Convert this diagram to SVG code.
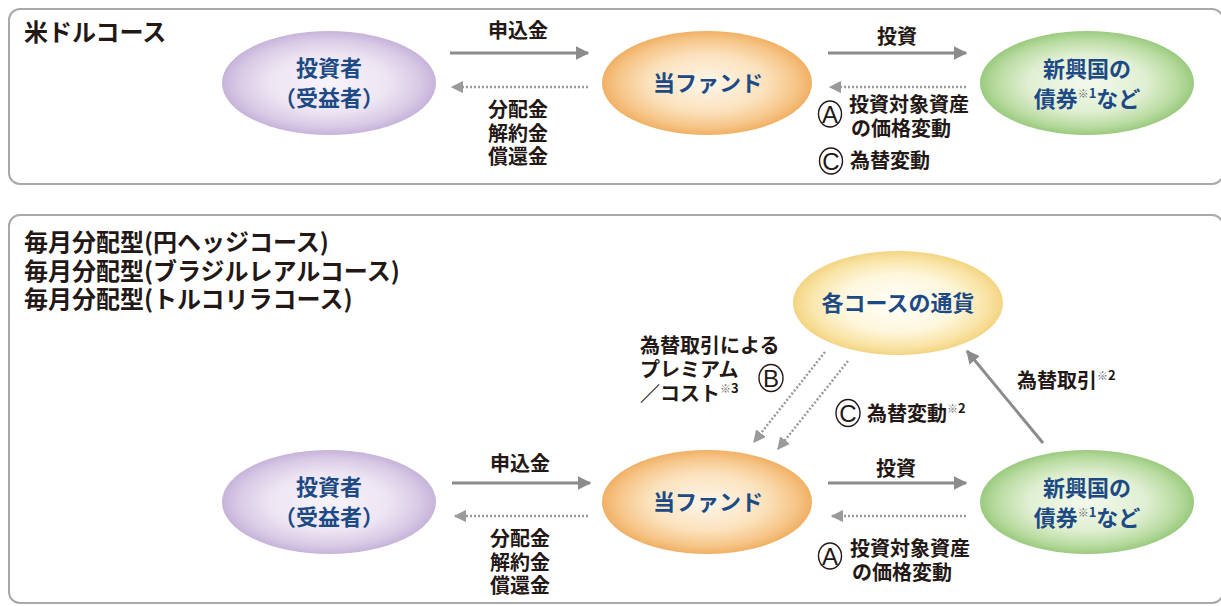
<svg xmlns="http://www.w3.org/2000/svg" width="1221" height="606" viewBox="0 0 1221 606">
<defs>
<radialGradient id="gPurple" cx="50%" cy="50%" r="50%"><stop offset="0" stop-color="#f7f3fa"/><stop offset="0.55" stop-color="#ede5f3"/><stop offset="0.85" stop-color="#d8c9e5"/><stop offset="1" stop-color="#c7b3da"/></radialGradient>
<radialGradient id="gOrange" cx="50%" cy="50%" r="50%"><stop offset="0" stop-color="#fef6ea"/><stop offset="0.55" stop-color="#fbe2bd"/><stop offset="0.85" stop-color="#f6c588"/><stop offset="1" stop-color="#f0b064"/></radialGradient>
<radialGradient id="gGreen" cx="50%" cy="50%" r="50%"><stop offset="0" stop-color="#f3f9ec"/><stop offset="0.55" stop-color="#e0efd2"/><stop offset="0.85" stop-color="#b8dba0"/><stop offset="1" stop-color="#9aca7e"/></radialGradient>
<radialGradient id="gYellow" cx="50%" cy="50%" r="50%"><stop offset="0" stop-color="#fffefa"/><stop offset="0.55" stop-color="#fef7dd"/><stop offset="0.85" stop-color="#f9e4a6"/><stop offset="1" stop-color="#f3d482"/></radialGradient>
<marker id="ah" viewBox="0 0 10 10" refX="9" refY="5" markerWidth="4.5" markerHeight="4.5" orient="auto" markerUnits="strokeWidth"><path d="M0,0 L10,5 L0,10 z" fill="#8c8c8c"/></marker>
<marker id="ahd" viewBox="0 0 10 10" refX="9" refY="5" markerWidth="5" markerHeight="5" orient="auto" markerUnits="strokeWidth"><path d="M0,0 L10,5 L0,10 z" fill="#9a9a9a"/></marker>
</defs>
<style>
text{font-family:"Noto Sans CJK JP","Noto Sans",sans-serif;font-weight:bold}
.panel{fill:#fff;stroke:#a9a9a9;stroke-width:2}
.title{font-size:24px;fill:#231815}
.node{font-size:22px;fill:#1d4a84;text-anchor:middle}
.lbl{font-size:20px;fill:#231815}
.c{text-anchor:middle}
.sup{font-size:11px;fill:#6a6a6a}
.supn{font-size:13px}
.solid{stroke:#8c8c8c;stroke-width:3;fill:none;marker-end:url(#ah)}
.dot{stroke:#9a9a9a;stroke-width:2.5;stroke-dasharray:2 2;fill:none;marker-end:url(#ahd)}
.circ{fill:#fff;stroke:#231815;stroke-width:1.4}
.cl{font-family:"Liberation Sans",Arial,sans-serif;font-size:24px;font-weight:normal;fill:#231815;text-anchor:middle}
</style>

<rect class="panel" x="9" y="9" width="1214" height="175" rx="11"/>
<rect class="panel" x="9" y="215" width="1214" height="388" rx="11"/>
<text class="title" x="24" y="41" font-size="23">米ドルコース</text>
<text class="title" x="24" y="251">毎月分配型(円ヘッジコース)</text>
<text class="title" x="24" y="280">毎月分配型(ブラジルレアルコース)</text>
<text class="title" x="24" y="308">毎月分配型(トルコリラコース)</text>

<g id="investor1"><ellipse cx="329" cy="83" rx="107" ry="52" fill="url(#gPurple)"/><text class="node" x="329" y="76">投資者</text><text class="node" x="329" y="106">（受益者）</text></g>
<g id="fund1"><ellipse cx="707" cy="83" rx="105" ry="52" fill="url(#gOrange)"/><text class="node" x="708" y="91">当ファンド</text></g>
<g id="bonds1"><ellipse cx="1087" cy="83" rx="107" ry="52" fill="url(#gGreen)"/><text class="node" x="1087" y="77">新興国の</text><text class="node" x="1087" y="107">債券<tspan class="sup" fill="#1d4a84" dy="-9">※</tspan><tspan class="supn" dy="0">1</tspan><tspan dy="9">など</tspan></text></g>

<g id="investor2"><ellipse cx="329" cy="502" rx="107" ry="52" fill="url(#gPurple)"/><text class="node" x="329" y="495">投資者</text><text class="node" x="329" y="525">（受益者）</text></g>
<g id="fund2"><ellipse cx="707" cy="502" rx="105" ry="52" fill="url(#gOrange)"/><text class="node" x="708" y="510">当ファンド</text></g>
<g id="bonds2"><ellipse cx="1087" cy="502" rx="107" ry="52" fill="url(#gGreen)"/><text class="node" x="1087" y="496">新興国の</text><text class="node" x="1087" y="526">債券<tspan class="sup" fill="#1d4a84" dy="-9">※</tspan><tspan class="supn" dy="0">1</tspan><tspan dy="9">など</tspan></text></g>
<g id="currency"><ellipse cx="898" cy="303" rx="105" ry="52" fill="url(#gYellow)"/><text class="node" x="898" y="311">各コースの通貨</text></g>

<g id="connectors">
<line class="solid" x1="450" y1="53" x2="588" y2="53"/>
<line class="dot" x1="588" y1="87" x2="452" y2="87"/>
<line class="solid" x1="828" y1="53" x2="966" y2="53"/>
<line class="dot" x1="966" y1="87" x2="830" y2="87"/>
<line class="solid" x1="452" y1="483" x2="590" y2="483"/>
<line class="dot" x1="588" y1="516" x2="455" y2="516"/>
<line class="solid" x1="828" y1="483" x2="966" y2="483"/>
<line class="dot" x1="966" y1="516" x2="832" y2="516"/>
<line class="dot" x1="825" y1="352" x2="754" y2="442"/>
<line class="dot" x1="848" y1="361" x2="778" y2="449"/>
<line class="solid" x1="1043" y1="443" x2="967" y2="351"/>
</g>

<g id="labels">
<text class="lbl c" x="518" y="38">申込金</text>
<text class="lbl c" x="518" y="117">分配金</text>
<text class="lbl c" x="518" y="140.5">解約金</text>
<text class="lbl c" x="518" y="164">償還金</text>
<text class="lbl c" x="897" y="44">投資</text>
<ellipse class="circ" cx="830" cy="114" rx="11.5" ry="13"/><text class="cl" x="830" y="122.5">A</text>
<text class="lbl" x="849" y="112">投資対象資産</text>
<text class="lbl" x="851" y="136">の価格変動</text>
<ellipse class="circ" cx="831" cy="161" rx="11.5" ry="13"/><text class="cl" x="831" y="169.5">C</text>
<text class="lbl" x="850" y="168">為替変動</text>

<text class="lbl" x="640" y="353">為替取引による</text>
<text class="lbl" x="640" y="377">プレミアム</text>
<text class="lbl" x="640" y="401">／コスト<tspan class="sup" dy="-8">※</tspan><tspan class="supn" dy="0" fill="#231815">3</tspan></text>
<ellipse class="circ" cx="771" cy="378" rx="12" ry="13.5"/><text class="cl" x="771" y="386.5">B</text>
<text class="lbl" x="1017" y="388">為替取引<tspan class="sup" dy="-8">※</tspan><tspan class="supn" dy="0">2</tspan></text>
<ellipse class="circ" cx="848" cy="413" rx="12" ry="13.5"/><text class="cl" x="848" y="421.5">C</text>
<text class="lbl" x="867" y="421">為替変動<tspan class="sup" dy="-8">※</tspan><tspan class="supn" dy="0">2</tspan></text>

<text class="lbl c" x="520" y="471">申込金</text>
<text class="lbl c" x="520" y="546">分配金</text>
<text class="lbl c" x="520" y="569.5">解約金</text>
<text class="lbl c" x="520" y="593">償還金</text>
<text class="lbl c" x="896" y="476">投資</text>
<ellipse class="circ" cx="830" cy="556" rx="11.5" ry="13"/><text class="cl" x="830" y="564.5">A</text>
<text class="lbl" x="850" y="556">投資対象資産</text>
<text class="lbl" x="852" y="580">の価格変動</text>
</g>
</svg>
